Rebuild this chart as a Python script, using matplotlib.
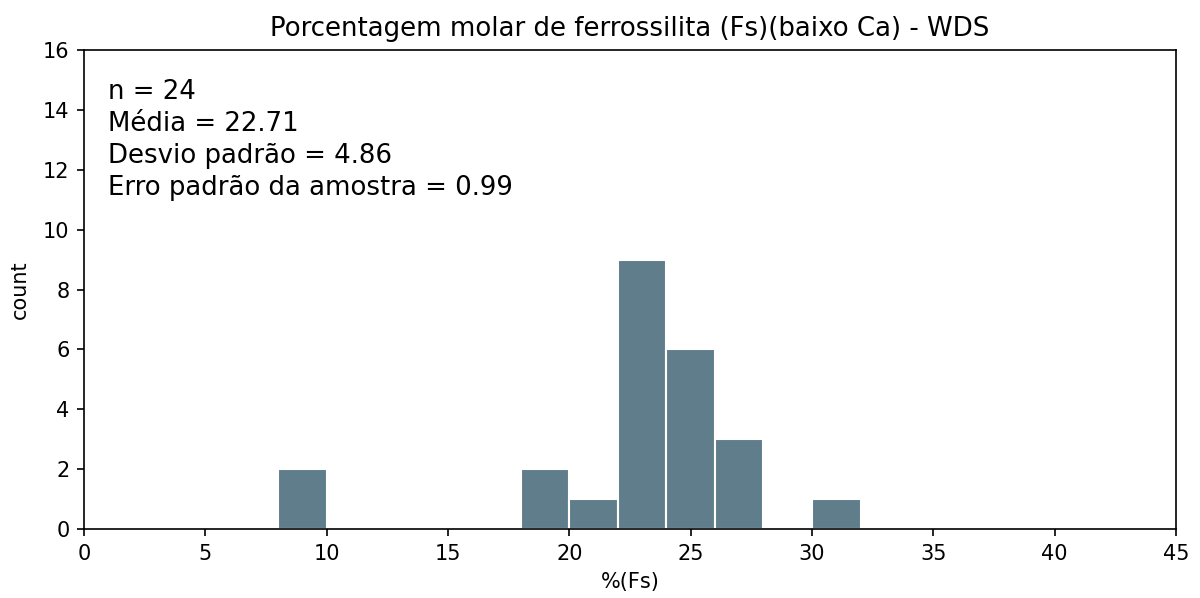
import numpy as np
import matplotlib
matplotlib.use("Agg")
import matplotlib.pyplot as plt

# bin edges and counts
bin_edges = [8, 10, 12, 14, 16, 18, 20, 22, 24, 26, 28, 30, 32]
counts = [2, 0, 0, 0, 0, 2, 1, 9, 6, 3, 0, 1]

n_amostras = 24
media = 22.71
desvio = 4.86
erro = 0.99

fig, ax = plt.subplots(figsize=(8, 3.987), dpi=150)
fig.subplots_adjust(left=0.07, right=0.98, top=0.916, bottom=0.1154)

ax.hist(bin_edges[:-1], bins=bin_edges, weights=counts,
        color="#607d8b", edgecolor="white", linewidth=1.0)

stats_txt = (f"n = {n_amostras}\n"
             f"Média = {media:.2f}\n"
             f"Desvio padrão = {desvio:.2f}\n"
             f"Erro padrão da amostra = {erro:.2f}")
ax.text(0.022, 0.94, stats_txt, transform=ax.transAxes,
        va="top", ha="left", fontsize=12.5, linespacing=1.3)

ax.set_xlim(0, 45)
ax.set_ylim(0, 16)
ax.set_xticks(np.arange(0, 46, 5))
ax.set_yticks(np.arange(0, 17, 2))
ax.set_xlabel("%(Fs)")
ax.set_ylabel("count", labelpad=6)
ax.set_title("Porcentagem molar de ferrossilita (Fs)(baixo Ca) - WDS",
             fontsize=12.5, pad=7)

fig.savefig("out.png", dpi=150)
